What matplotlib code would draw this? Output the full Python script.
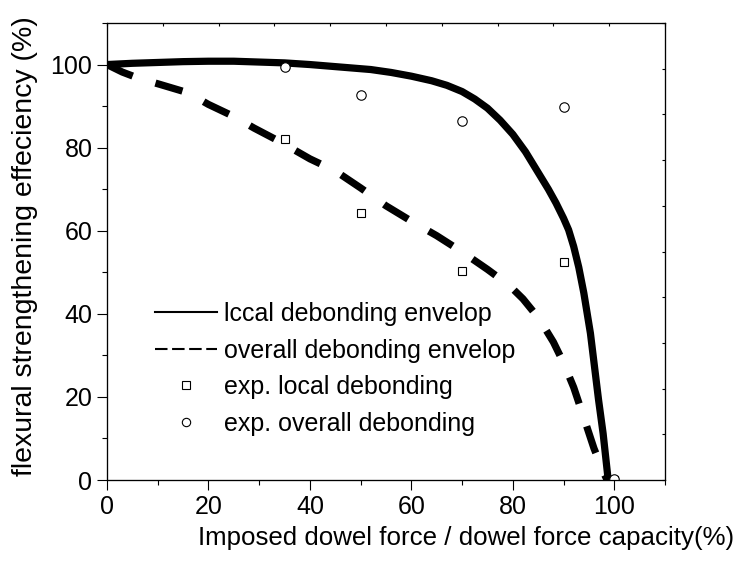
import matplotlib
matplotlib.use('Agg')
import matplotlib.pyplot as plt
from matplotlib.lines import Line2D
import numpy as np

plt.rcParams['font.family'] = ['Liberation Sans', 'DejaVu Sans']

# --- datos ---
x_local = [0, 5, 10, 15, 20, 25, 30, 35, 40, 44, 48, 52, 56, 60, 64, 67, 70, 72.5, 75,
           77.5, 80, 82.5, 85, 87, 88.5, 90, 91, 92, 93, 94, 95.3, 96.1, 96.9, 97.8, 98.8]
y_local = [100, 100.3, 100.5, 100.7, 100.8, 100.8, 100.6, 100.4, 100.0, 99.6, 99.2, 98.8,
           98.1, 97.2, 96.1, 95.0, 93.5, 91.7, 89.5, 86.6, 83.2, 79.0, 74.0, 70.0, 66.7,
           63.0, 60.2, 56.2, 51.2, 45.0, 35.3, 27.3, 19.3, 11.2, 0]

x_overall = [0, 3, 6, 10.5, 16, 20, 25, 29, 34, 40, 45, 50, 55, 60, 65, 70, 75, 78, 80,
             82, 84, 86, 88, 90, 92, 94, 96, 98, 98.6]
y_overall = [100, 98.2, 96.8, 95.2, 93.2, 90.4, 87.5, 84.7, 81.5, 77.3, 74.4, 70.3, 66,
             62.3, 58.8, 54.9, 50.7, 48.0, 46.0, 43.6, 40.6, 37.2, 33.2, 28.2, 22.3, 15.0,
             7.6, 1.5, 0]

x_exp = [35, 50, 70, 90, 100]
y_exp_local = [82.1, 64.3, 50.4, 52.4, 0]
y_exp_overall = [99.4, 92.6, 86.5, 89.7, 0.2]

labels = ['lccal debonding envelop', 'overall debonding envelop',
          'exp. local debonding', 'exp. overall debonding']

FS_TICK = 18
FS_XLABEL = 18.6
FS_YLABEL = 20.5
FS_LEG = 18

fig = plt.figure(figsize=(7.4, 5.62), dpi=100)
ax = fig.add_axes([107/740, 82/562, 558/740, 457/562])

ax.plot(x_local, y_local, color='black', lw=5.2, solid_capstyle='butt',
        solid_joinstyle='round', zorder=3)
ax.plot(x_overall, y_overall, color='black', lw=5.2, dashes=(3.9, 3.3),
        dash_capstyle='butt', zorder=3)
ax.plot(x_exp, y_exp_local, ls='none', marker='s', ms=6, mfc='white', mec='black',
        mew=0.8, zorder=4)
ax.plot(x_exp, y_exp_overall, ls='none', marker='o', ms=6.8, mfc='white', mec='black',
        mew=0.8, zorder=4)

ax.set_xlim(0, 110)
ax.set_ylim(0, 110)
ax.set_xticks(np.arange(0, 101, 20))
ax.set_yticks(np.arange(0, 101, 20))
ax.set_xticks(np.arange(10, 111, 20), minor=True)
ax.set_yticks(np.arange(10, 111, 20), minor=True)
ax.tick_params(which='major', direction='out', length=7, width=0.8,
               labelsize=FS_TICK, pad=3.5)
ax.tick_params(which='minor', direction='out', length=3.5, width=0.8)
for s in ax.spines.values():
    s.set_linewidth(0.8)

# ejes secundarios arriba y derecha (ticks hacia dentro, sin etiquetas)
axt = ax.twiny()
axt.set_xlim(0, 110)
axt.set_xticks(np.arange(0, 111, 11))
axt.tick_params(direction='in', length=2, width=0.8, labeltop=False)
axr = ax.twinx()
axr.set_ylim(0, 110)
axr.set_yticks(np.arange(0, 111, 11))
axr.tick_params(direction='in', length=2, width=0.8, labelright=False)

ax.set_xlabel('Imposed dowel force / dowel force capacity(%)', fontsize=FS_XLABEL)
ax.xaxis.set_label_coords(0.643, -0.100)
ax.set_ylabel('flexural strengthening effeciency (%)', fontsize=FS_YLABEL)
ax.yaxis.set_label_coords(-0.123, 0.512)

handles = [
    Line2D([], [], color='black', lw=1.5),
    Line2D([], [], color='black', lw=1.5, dashes=(6, 2.2)),
    Line2D([], [], ls='none', marker='s', ms=5.5, mfc='white', mec='black', mew=0.8),
    Line2D([], [], ls='none', marker='o', ms=6, mfc='white', mec='black', mew=0.8),
]
ax.legend(handles, labels, loc='upper left', bbox_to_anchor=(0.086, 0.389),
          frameon=False, fontsize=FS_LEG, handlelength=2.5, handletextpad=0.25,
          labelspacing=0.5, borderpad=0, borderaxespad=0)

fig.savefig('out.png', dpi=100)
